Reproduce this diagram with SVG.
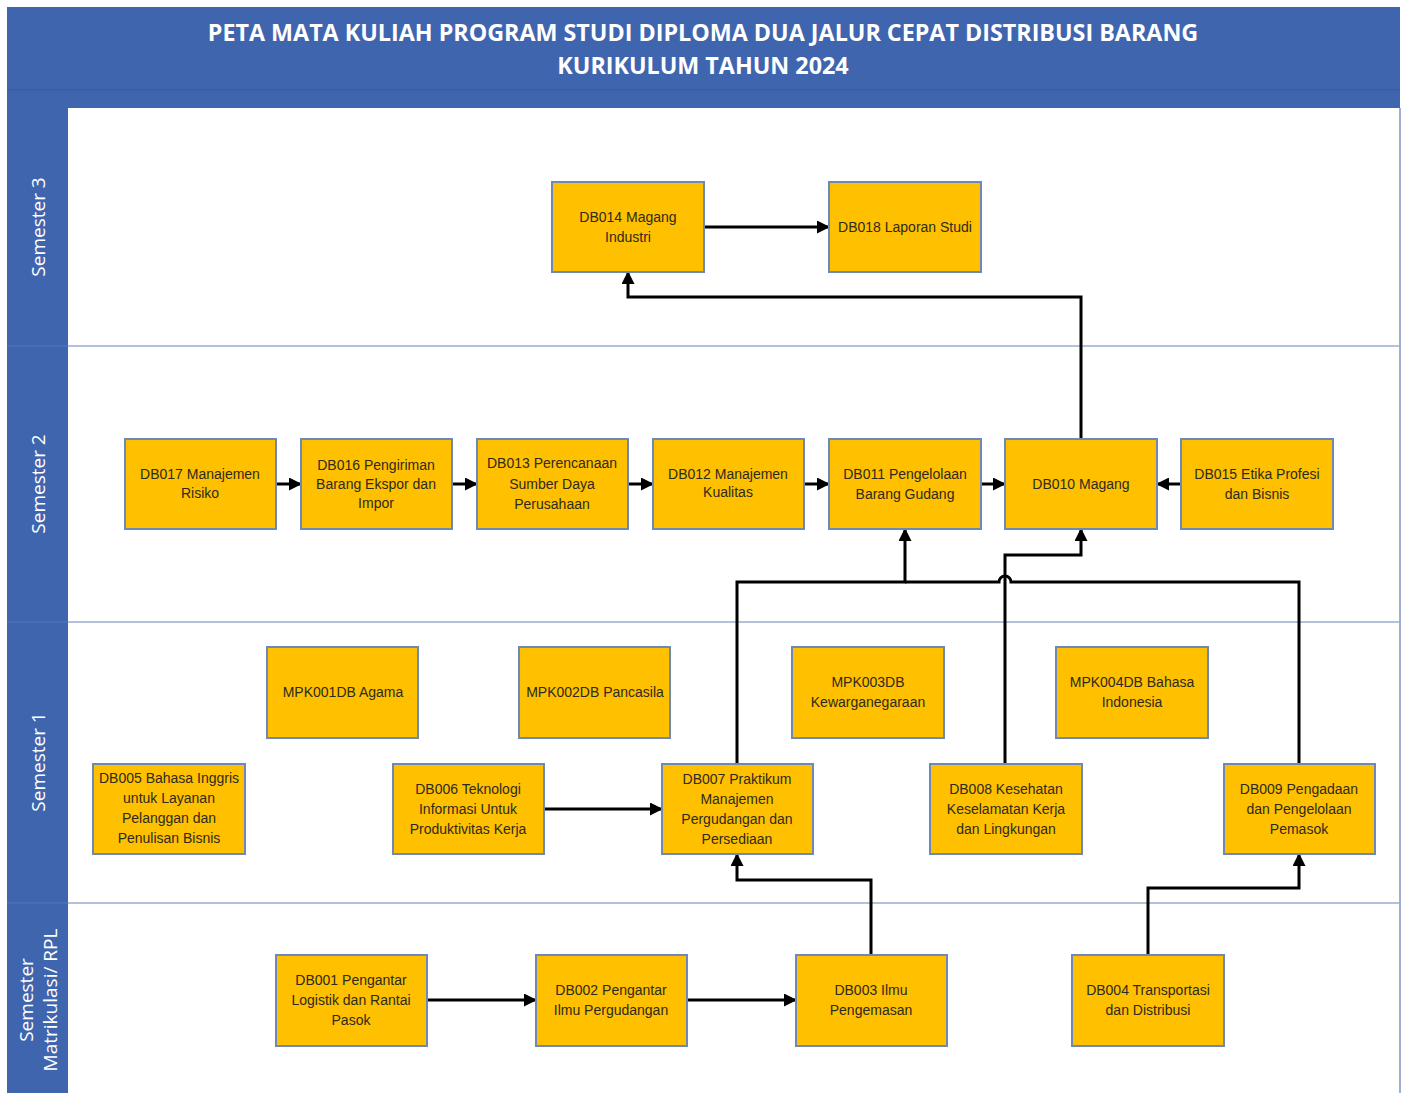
<svg xmlns="http://www.w3.org/2000/svg" width="1405" height="1093" viewBox="0 0 1405 1093">
<defs>
<style>
.node rect{fill:#FFC000;stroke:#6F89B6;stroke-width:2}
.node text{font-family:"Liberation Sans",Arial,sans-serif;font-size:14px;fill:#2E2A1E;text-anchor:middle}
.lane text{font-family:"Open Sans","Liberation Sans",sans-serif;font-size:19px;fill:#FFFFFF;text-anchor:middle;dominant-baseline:central}
.title{font-family:"Open Sans","Liberation Sans",sans-serif;font-weight:bold;font-size:23.3px;fill:#FFFFFF;text-anchor:middle}
.conn path{fill:none;stroke:#000;stroke-width:3;stroke-linejoin:miter}
.div{stroke:#9AAED0;stroke-width:1.3}
</style>
<marker id="arr" markerUnits="userSpaceOnUse" markerWidth="13" markerHeight="13" refX="12" refY="6.5" orient="auto" viewBox="0 0 13 13">
<path d="M0,0 L13,6.5 L0,13 z" fill="#000"/>
</marker>
</defs>
<rect x="0" y="0" width="1405" height="1093" fill="#FFFFFF"/>
<g id="frame">
<rect x="7" y="7" width="1393" height="101" fill="#4065AF"/>
<line x1="7" y1="90" x2="1400" y2="90" stroke="#3A5DA3" stroke-width="1.5"/>
<rect x="7" y="108" width="61" height="985" fill="#4065AF"/>
<line x1="1400" y1="108" x2="1400" y2="1093" stroke="#7F97C4" stroke-width="1.5"/>
<line class="div" x1="68" y1="346" x2="1400" y2="346"/>
<line class="div" x1="68" y1="622" x2="1400" y2="622"/>
<line class="div" x1="68" y1="903" x2="1400" y2="903"/>
<line x1="7" y1="346" x2="68" y2="346" stroke="#5778B8" stroke-width="1"/>
<line x1="7" y1="622" x2="68" y2="622" stroke="#5778B8" stroke-width="1"/>
<line x1="7" y1="903" x2="68" y2="903" stroke="#5778B8" stroke-width="1"/>
<text class="title" x="703" y="41">PETA MATA KULIAH PROGRAM STUDI DIPLOMA DUA JALUR CEPAT DISTRIBUSI BARANG</text>
<text class="title" x="703" y="74">KURIKULUM TAHUN 2024</text>
</g>
<g class="lane" id="lanes">
<text transform="translate(38,227) rotate(-90)">Semester 3</text>
<text transform="translate(38,484) rotate(-90)">Semester 2</text>
<text transform="translate(38,762) rotate(-90)">Semester 1</text>
<text transform="translate(26,1000) rotate(-90)">Semester</text>
<text transform="translate(50,1000) rotate(-90)">Matrikulasi/ RPL</text>
</g>
<g class="conn" id="connectors">
<path d="M704,227 H829" marker-end="url(#arr)"/>
<path d="M1081,439 V297 H628 V272" marker-end="url(#arr)"/>
<path d="M276,484 H301" marker-end="url(#arr)"/>
<path d="M452,484 H477" marker-end="url(#arr)"/>
<path d="M628,484 H653" marker-end="url(#arr)"/>
<path d="M804,484 H829" marker-end="url(#arr)"/>
<path d="M981,484 H1005" marker-end="url(#arr)"/>
<path d="M1181,484 H1157" marker-end="url(#arr)"/>
<path d="M737,764 V582 H905 V529" marker-end="url(#arr)"/>
<path d="M1299,764 V582 H1011 A6,6 0 0 0 999,582 H905"/>
<path d="M1005,764 V555 H1081 V529" marker-end="url(#arr)"/>
<path d="M544,809 H662" marker-end="url(#arr)"/>
<path d="M871,955 V880 H737 V854" marker-end="url(#arr)"/>
<path d="M427,1000 H536" marker-end="url(#arr)"/>
<path d="M687,1000 H796" marker-end="url(#arr)"/>
<path d="M1148,955 V888 H1299 V854" marker-end="url(#arr)"/>
</g>
<g class="node" id="DB014"><rect x="552" y="182" width="152" height="90"/><text x="628" y="222">DB014 Magang</text><text x="628" y="242">Industri</text></g>
<g class="node" id="DB018"><rect x="829" y="182" width="152" height="90"/><text x="905" y="232">DB018 Laporan Studi</text></g>
<g class="node" id="DB017"><rect x="125" y="439" width="151" height="90"/><text x="200" y="479">DB017 Manajemen</text><text x="200" y="498">Risiko</text></g>
<g class="node" id="DB016"><rect x="301" y="439" width="151" height="90"/><text x="376" y="470">DB016 Pengiriman</text><text x="376" y="489">Barang Ekspor dan</text><text x="376" y="508">Impor</text></g>
<g class="node" id="DB013"><rect x="477" y="439" width="151" height="90"/><text x="552" y="468">DB013 Perencanaan</text><text x="552" y="489">Sumber Daya</text><text x="552" y="509">Perusahaan</text></g>
<g class="node" id="DB012"><rect x="653" y="439" width="151" height="90"/><text x="728" y="479">DB012 Manajemen</text><text x="728" y="497">Kualitas</text></g>
<g class="node" id="DB011"><rect x="829" y="439" width="152" height="90"/><text x="905" y="479">DB011 Pengelolaan</text><text x="905" y="499">Barang Gudang</text></g>
<g class="node" id="DB010"><rect x="1005" y="439" width="152" height="90"/><text x="1081" y="489">DB010 Magang</text></g>
<g class="node" id="DB015"><rect x="1181" y="439" width="152" height="90"/><text x="1257" y="479">DB015 Etika Profesi</text><text x="1257" y="499">dan Bisnis</text></g>
<g class="node" id="MPK001DB"><rect x="267" y="647" width="151" height="91"/><text x="343" y="697">MPK001DB Agama</text></g>
<g class="node" id="MPK002DB"><rect x="519" y="647" width="151" height="91"/><text x="595" y="697">MPK002DB Pancasila</text></g>
<g class="node" id="MPK003DB"><rect x="792" y="647" width="152" height="91"/><text x="868" y="687">MPK003DB</text><text x="868" y="707">Kewarganegaraan</text></g>
<g class="node" id="MPK004DB"><rect x="1056" y="647" width="152" height="91"/><text x="1132" y="687">MPK004DB Bahasa</text><text x="1132" y="707">Indonesia</text></g>
<g class="node" id="DB005"><rect x="93" y="764" width="152" height="90"/><text x="169" y="783">DB005 Bahasa Inggris</text><text x="169" y="803">untuk Layanan</text><text x="169" y="823">Pelanggan dan</text><text x="169" y="843">Penulisan Bisnis</text></g>
<g class="node" id="DB006"><rect x="393" y="764" width="151" height="90"/><text x="468" y="794">DB006 Teknologi</text><text x="468" y="814">Informasi Untuk</text><text x="468" y="834">Produktivitas Kerja</text></g>
<g class="node" id="DB007"><rect x="662" y="764" width="151" height="90"/><text x="737" y="784">DB007 Praktikum</text><text x="737" y="804">Manajemen</text><text x="737" y="824">Pergudangan dan</text><text x="737" y="844">Persediaan</text></g>
<g class="node" id="DB008"><rect x="930" y="764" width="152" height="90"/><text x="1006" y="794">DB008 Kesehatan</text><text x="1006" y="814">Keselamatan Kerja</text><text x="1006" y="834">dan Lingkungan</text></g>
<g class="node" id="DB009"><rect x="1224" y="764" width="151" height="90"/><text x="1299" y="794">DB009 Pengadaan</text><text x="1299" y="814">dan Pengelolaan</text><text x="1299" y="834">Pemasok</text></g>
<g class="node" id="DB001"><rect x="276" y="955" width="151" height="91"/><text x="351" y="985">DB001 Pengantar</text><text x="351" y="1005">Logistik dan Rantai</text><text x="351" y="1025">Pasok</text></g>
<g class="node" id="DB002"><rect x="536" y="955" width="151" height="91"/><text x="611" y="995">DB002 Pengantar</text><text x="611" y="1015">Ilmu Pergudangan</text></g>
<g class="node" id="DB003"><rect x="796" y="955" width="151" height="91"/><text x="871" y="995">DB003 Ilmu</text><text x="871" y="1015">Pengemasan</text></g>
<g class="node" id="DB004"><rect x="1072" y="955" width="152" height="91"/><text x="1148" y="995">DB004 Transportasi</text><text x="1148" y="1015">dan Distribusi</text></g>
</svg>
